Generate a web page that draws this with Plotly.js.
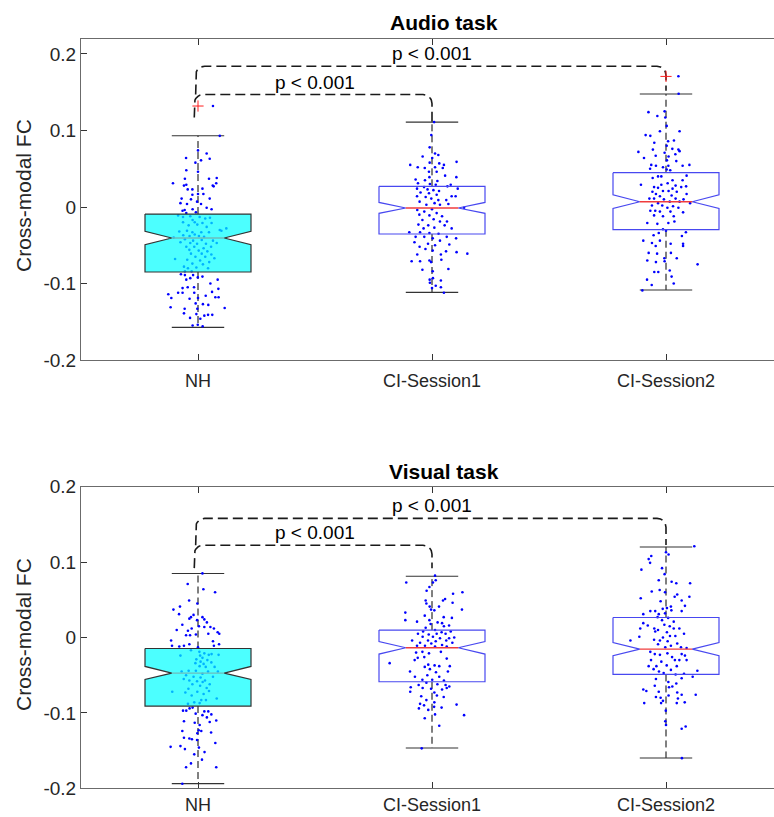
<!DOCTYPE html>
<html><head><meta charset="utf-8">
<script src="https://cdn.plot.ly/plotly-3.0.1.min.js"></script>
<style>html,body{margin:0;padding:0;background:#fff}#chart{width:774px;height:817px}</style>
</head><body><div id="chart"></div>
<script>
// ---------- data ----------
const categories = ['NH', 'CI-Session1', 'CI-Session2'];
const yTickVals = [-0.2, -0.1, 0, 0.1, 0.2];
const yTickText = ['-0.2', '-0.1', '0', '0.1', '0.2'];
const panelTitles = ['Audio task', 'Visual task'];
const yAxisLabel = 'Cross-modal FC';
const pLabel = 'p < 0.001';

// Audio task box statistics (NH, CI-Session1, CI-Session2)
const audioQ1 = [-0.085, -0.0353, -0.0297];
const audioQ3 = [-0.0092, 0.027, 0.0448];
const audioMedian = [-0.0405, -0.0013, 0.0069];
const audioNotchLo = [-0.0493, -0.0083, -0.0018];
const audioNotchHi = [-0.0319, 0.006, 0.016];
const audioWhiskerLo = [-0.1574, -0.1116, -0.1085];
const audioWhiskerHi = [0.0932, 0.111, 0.1477];
const audioOutlierGroup = [1, 3];
const audioOutlierY = [0.132, 0.1707];
// Audio significance brackets
const audioBracketFrom = [1, 1];
const audioBracketTo = [2, 3];
const audioBracketY = [0.147, 0.184];
const audioBracketLeftEnd = [0.117, 0.147];
const audioBracketRightEnd = [0.111, 0.152];

// Visual task box statistics
const visualQ1 = [-0.0909, -0.0587, -0.049];
const visualQ3 = [-0.0146, 0.0098, 0.0265];
const visualMedian = [-0.0472, -0.0136, -0.0154];
const visualNotchLo = [-0.0556, -0.022, -0.0242];
const visualNotchHi = [-0.0384, -0.0053, -0.0066];
const visualWhiskerLo = [-0.1938, -0.1465, -0.1598];
const visualWhiskerHi = [0.0848, 0.0813, 0.1201];
const visualOutlierGroup = [];
const visualOutlierY = [];
const visualBracketFrom = [1, 1];
const visualBracketTo = [2, 3];
const visualBracketY = [0.1224, 0.158];
const visualBracketLeftEnd = [0.092, 0.1224];
const visualBracketRightEnd = [0.092, 0.1228];

// Individual subjects (value, horizontal jitter)
const audioNH_y = [0.132,0.093,0.074,0.070,0.061,0.063,0.064,0.058,0.046,0.048,0.038,0.037,0.037,0.031,0.028,0.029,0.028,0.031,0.027,0.023,0.023,0.024,0.017,0.016,0.017,0.011,0.011,0.010,0.007,0.005,0.004,0.004,-0.001,-0.003,-0.003,-0.004,-0.005,-0.007,-0.008,
-0.011,-0.013,-0.012,-0.013,-0.015,-0.014,-0.017,-0.020,-0.020,-0.021,-0.021,-0.024,-0.023,-0.026,-0.030,-0.031,-0.028,-0.032,-0.031,-0.033,-0.033,-0.033,-0.036,-0.037,-0.038,-0.038,-0.039,-0.040,-0.042,-0.044,-0.043,-0.044,-0.046,-0.047,-0.048,-0.048,-0.047,-0.052,-0.052,-0.054,-0.052,-0.056,-0.057,-0.058,-0.061,-0.061,-0.062,-0.065,-0.065,-0.067,-0.068,-0.069,-0.070,-0.072,-0.074,-0.075,-0.078,-0.080,-0.079,-0.080,-0.084,-0.084,
-0.088,-0.089,-0.089,-0.092,-0.091,-0.093,-0.095,-0.095,-0.100,-0.105,-0.105,-0.106,-0.107,-0.114,-0.112,-0.112,-0.112,-0.111,-0.116,-0.120,-0.119,-0.119,-0.118,-0.118,-0.126,-0.127,-0.128,-0.131,-0.132,-0.133,-0.133,-0.139,-0.140,-0.142,-0.141,-0.141,-0.145,-0.146,-0.155,-0.156,-0.154];
const audioNH_dx = [0.064,0.093,0,0.037,0.013,0.05,-0.051,-0.011,0,-0.05,0.08,0.047,-0.056,-0.107,-0.06,-0.05,0.063,0.078,0.067,-0.024,-0.044,0.019,0,-0.024,0.023,0.05,-0.07,-0.03,-0.004,-0.075,-0.047,0.013,0.037,0.058,-0.023,-0.057,-0.066,-0.009,-0.05,
-0.085,-0.064,-0.033,0.007,0.031,0.051,-0.023,-0.064,-0.014,0.019,0.058,-0.04,-0.003,0.037,0.093,0.1,0.121,-0.08,-0.047,-0.024,0.014,0.047,-0.014,-0.063,-0.036,0.004,0.026,-0.104,-0.056,-0.021,0.016,0.064,-0.075,-0.033,-0.004,0.034,0.08,-0.05,-0.016,0.024,0.056,-0.037,0.003,0.04,-0.03,0.016,0.057,-0.011,0.031,0.07,-0.098,-0.046,0.009,0.048,-0.024,0.021,-0.06,-0.043,-0.007,0.043,-0.056,-0.027,
-0.073,-0.056,-0.021,-0.001,0.019,-0.033,-0.05,0.084,0.053,-0.017,-0.044,-0.066,0.087,-0.127,-0.085,-0.066,-0.016,0.06,0.033,-0.036,0,-0.114,0.074,0.088,-0.01,0.021,0.044,-0.117,0.114,-0.057,-0.003,-0.06,-0.007,0.027,0.043,0.061,-0.034,0.01,-0.023,0.02,-0.001];

const audioCI1_y = [0.111,0.094,0.078,0.070,0.068,0.066,0.064,0.058,0.057,0.059,0.055,0.055,0.052,0.051,0.052,0.051,0.046,0.046,0.039,0.041,0.039,0.036,0.035,0.034,0.031,0.030,0.029,0.029,0.026,0.027,0.024,0.024,0.023,0.022,0.021,0.019,0.018,0.016,0.014,0.014,0.014,0.013,0.011,0.009,0.009,0.007,0.005,0.004,0.003,0.003,
-0.001,-0.004,-0.003,-0.006,-0.008,-0.010,-0.011,-0.012,-0.019,-0.017,-0.016,-0.019,-0.023,-0.024,-0.024,-0.027,-0.028,-0.028,-0.033,-0.033,-0.034,-0.035,-0.039,-0.039,-0.041,-0.039,-0.041,-0.044,-0.046,-0.048,-0.050,-0.049,-0.052,-0.055,-0.057,-0.058,-0.059,-0.062,-0.061,-0.062,-0.071,-0.070,-0.071,-0.069,-0.072,-0.081,-0.082,-0.084,-0.093,-0.095,-0.106,-0.096,-0.099,-0.103,-0.105,-0.112];
const audioCI1_dx = [0.009,-0.003,-0.01,0.013,0.027,-0.04,0.001,-0.01,0.031,0.105,-0.093,0.051,-0.061,-0.031,0.013,0.046,0.02,-0.013,0.104,0.056,-0.011,-0.07,-0.03,0.023,-0.06,-0.009,0.08,0.016,-0.034,0.066,0.11,-0.064,-0.019,0.006,0.03,-0.049,-0.013,0.02,-0.064,0.101,0.084,-0.027,-0.003,0.061,0.027,-0.053,0.011,0.07,-0.024,0.034,
0.137,-0.063,0,-0.033,0.02,-0.054,-0.011,0.043,0.064,-0.041,0.007,0.034,-0.058,-0.016,0.054,0.01,-0.036,0.084,-0.097,-0.051,-0.011,0.028,-0.07,-0.033,0.003,0.063,0.103,0.034,-0.075,-0.017,0.013,0.074,-0.053,-0.028,0.003,0.06,0.105,0.038,0.151,-0.063,-0.087,-0.011,-0.051,0.04,-0.004,0.07,-0.041,0.003,0.004,-0.01,0,0.038,-0.009,0.016,0.038,0.051];

const audioCI2_y = [0.171,0.148,0.124,0.125,0.119,0.117,0.106,0.099,0.099,0.094,0.093,0.087,0.086,0.084,0.080,0.076,0.075,0.075,0.072,0.073,0.071,0.067,0.066,0.064,0.069,0.061,0.060,0.055,0.054,0.054,0.055,0.054,0.052,0.050,0.049,0.048,
0.040,0.038,0.040,0.041,0.035,0.035,0.029,0.031,0.028,0.027,0.029,0.026,0.025,0.024,0.026,0.020,0.021,0.021,0.020,0.017,0.017,0.014,0.015,0.011,0.011,0.011,0.010,0.010,0.007,0.007,0.005,0.005,0.002,0.002,0.001,-0.001,-0.001,-0.005,-0.005,-0.006,-0.006,-0.007,-0.011,-0.012,-0.012,-0.021,-0.022,-0.021,-0.019,-0.029,
-0.031,-0.034,-0.033,-0.037,-0.038,-0.044,-0.044,-0.047,-0.048,-0.048,-0.051,-0.051,-0.060,-0.060,-0.061,-0.067,-0.067,-0.070,-0.072,-0.071,-0.075,-0.085,-0.085,-0.083,-0.091,-0.095,-0.102,-0.100,-0.109];
const audioCI2_dx = [0.053,0.054,-0.075,-0.006,-0.037,-0.003,0.003,-0.026,0.058,-0.087,-0.067,0.034,0.009,-0.05,0.003,0.027,0.053,-0.056,-0.118,0.058,-0.006,-0.044,0.011,-0.094,0.04,0.004,0.044,-0.063,-0.043,0.071,0.1,0.01,-0.013,-0.068,0.003,0.018,
-0.034,-0.057,-0.02,0.088,0.028,0.071,-0.107,0.007,0.041,0.086,-0.02,-0.051,-0.034,0.028,0.065,-0.058,-0.013,0.011,0.046,-0.043,0.088,-0.026,0.024,-0.071,0.041,-0.051,-0.009,0.075,0.016,0.058,0.103,-0.034,-0.06,-0.016,0.03,0.006,0.053,-0.067,-0.046,-0.026,0.019,0.073,-0.051,-0.013,0.033,-0.08,-0.037,0.01,0.036,-0.013,
0,-0.031,0.085,-0.053,0.068,-0.097,-0.026,-0.06,0.02,0.073,0.073,-0.044,-0.074,0.021,-0.038,-0.007,0.046,-0.08,-0.043,-0.006,0.135,-0.05,-0.033,0.016,0.024,-0.081,-0.061,0.033,-0.101];

const visualNH_y = [0.085,0.071,0.064,0.060,0.045,0.049,0.041,0.037,0.031,0.030,0.027,0.025,0.027,0.023,0.024,0.020,0.017,0.015,0.012,0.014,0.014,0.010,0.009,0.012,0.007,0.005,0.003,0.003,0.004,0.005,-0.004,-0.005,-0.009,-0.011,-0.009,-0.011,-0.012,-0.013,-0.011,
-0.017,-0.019,-0.021,-0.023,-0.024,-0.024,-0.022,-0.023,-0.027,-0.029,-0.030,-0.032,-0.033,-0.034,-0.035,-0.038,-0.039,-0.039,-0.044,-0.044,-0.045,-0.045,-0.048,-0.045,-0.050,-0.052,-0.053,-0.052,-0.055,-0.057,-0.058,-0.057,-0.059,-0.062,-0.062,-0.064,-0.067,-0.068,-0.071,-0.072,-0.072,-0.073,-0.075,-0.077,-0.081,-0.083,-0.083,-0.086,-0.088,-0.087,
-0.097,-0.097,-0.094,-0.093,-0.098,-0.098,-0.101,-0.103,-0.106,-0.102,-0.111,-0.110,-0.113,-0.112,-0.116,-0.123,-0.124,-0.124,-0.126,-0.127,-0.133,-0.134,-0.135,-0.136,-0.140,-0.145,-0.144,-0.148,-0.146,-0.152,-0.155,-0.162,-0.167,-0.172,-0.172,-0.194];
const visualNH_dx = [0.019,-0.044,0.023,0.073,-0.003,-0.038,-0.077,-0.105,-0.081,-0.019,-0.03,-0.037,0.019,-0.004,0.027,0.038,-0.067,0.004,-0.027,0.027,0.053,-0.091,-0.043,0.068,0.084,0.091,-0.051,-0.034,-0.009,0.044,-0.115,0.064,-0.037,-0.06,0.09,-0.111,-0.08,0,0.068,
-0.03,0.006,0.027,0.046,-0.075,0.009,0.058,0.088,0.019,-0.007,0.04,0.011,0.057,-0.011,0.024,0.007,0.033,0.071,-0.04,-0.009,-0.07,0.043,0.019,0.085,-0.051,-0.019,0.011,0.064,-0.061,-0.037,-0.004,0.03,0.02,-0.024,0.05,0.009,0.037,-0.041,0.047,-0.11,-0.003,-0.054,0.024,-0.027,0.08,0.014,0.034,-0.016,-0.043,0.007,
-0.064,-0.05,-0.036,-0.023,0.027,0.044,-0.01,0.019,0.038,0.057,-0.06,0.078,-0.014,0.05,0.007,0.003,0.014,-0.067,0.056,-0.003,-0.06,-0.037,-0.026,-0.004,0.074,-0.117,-0.075,-0.056,0.004,0.028,-0.016,0.017,-0.03,-0.051,0.078,-0.067];

const visualCI1_y = [0.082,0.073,0.073,0.076,0.067,0.062,0.060,0.058,0.051,0.049,0.049,0.046,0.045,0.041,0.041,0.037,0.036,0.033,0.037,0.029,0.027,0.026,0.023,0.023,0.021,0.020,0.019,0.018,0.016,0.015,0.013,0.010,0.008,
0.007,0.008,0.005,0.004,0.005,0.005,0.001,0.001,-0.001,-0.001,0.000,-0.004,-0.004,-0.005,-0.004,-0.007,-0.008,-0.010,-0.007,-0.011,-0.011,-0.012,-0.012,-0.019,-0.021,-0.020,-0.019,-0.027,-0.026,-0.028,-0.030,-0.034,-0.036,-0.037,-0.039,-0.038,-0.038,-0.042,-0.045,-0.046,-0.045,-0.050,-0.052,-0.052,-0.056,-0.056,-0.057,
-0.060,-0.063,-0.062,-0.063,-0.065,-0.066,-0.067,-0.068,-0.072,-0.069,-0.073,-0.067,-0.078,-0.077,-0.079,-0.083,-0.086,-0.088,-0.090,-0.089,-0.094,-0.093,-0.096,-0.092,-0.103,-0.107,-0.102,-0.117,-0.147];
const visualCI1_dx = [0.013,-0.11,0.004,0.016,-0.011,-0.023,0.13,0.09,0.056,0.047,-0.027,0.088,-0.024,-0.01,0.03,-0.004,0.01,-0.114,0.128,-0.031,0.05,0.085,-0.114,-0.011,-0.064,0.024,0.043,-0.006,0.073,0.051,-0.027,0.013,-0.038,
0.041,0.08,-0.06,-0.014,0.02,0.058,-0.04,0.004,0.034,0.073,0.095,-0.085,-0.017,0.016,0.061,-0.051,-0.003,0.043,0.087,-0.064,-0.03,0.013,0.063,-0.041,-0.013,-0.068,0.038,-0.061,-0.033,0.063,-0.074,-0.181,-0.016,0.011,-0.031,0.031,0.076,-0.009,-0.094,0.017,0.068,-0.02,-0.073,0.031,-0.041,0.001,0.051,
-0.024,-0.057,0.023,0.058,0.074,-0.091,-0.04,-0.004,-0.093,0.043,0.01,0.063,-0.046,0.021,0.05,-0.024,0.01,-0.051,-0.034,0.105,-0.056,0.041,-0.016,0.009,0.137,-0.031,0.013,0.031,-0.044];

const visualCI2_y = [0.121,0.113,0.110,0.108,0.104,0.099,0.092,0.090,0.084,0.076,0.074,0.072,0.072,0.063,0.061,0.060,0.057,0.054,0.054,0.052,0.049,0.048,0.041,0.042,0.039,0.038,0.035,0.035,0.036,0.031,0.031,0.032,0.035,
0.027,0.026,0.023,0.021,0.019,0.016,0.017,0.012,0.015,0.012,0.010,0.012,0.012,0.008,0.007,0.005,0.001,0.002,0.000,0.002,-0.003,-0.004,-0.004,-0.005,-0.008,-0.009,-0.011,-0.013,-0.013,-0.014,-0.019,-0.022,-0.023,-0.021,-0.022,-0.026,-0.024,-0.030,-0.032,-0.030,-0.030,-0.030,-0.038,-0.038,-0.037,-0.038,-0.042,-0.043,-0.044,-0.045,-0.047,-0.048,-0.049,
-0.055,-0.054,-0.052,-0.059,-0.064,-0.065,-0.061,-0.069,-0.071,-0.066,-0.072,-0.073,-0.076,-0.076,-0.079,-0.080,-0.077,-0.081,-0.084,-0.087,-0.087,-0.086,-0.087,-0.097,-0.111,-0.116,-0.118,-0.121,-0.160];
const visualCI2_dx = [0.121,0,0.011,-0.063,-0.074,-0.068,-0.017,-0.105,-0.006,-0.031,0.024,0.044,0.103,-0.027,-0.061,-0.004,0.048,0.037,0.1,-0.108,0.067,-0.023,0.021,0.081,0.004,-0.014,-0.046,-0.067,0.023,-0.097,-0.031,-0.004,0.067,
-0.036,0.009,-0.017,0.033,-0.097,-0.078,-0.007,-0.05,0.016,-0.11,-0.034,0.033,0.057,-0.046,0.004,0.077,-0.114,0.017,-0.013,0.04,-0.051,-0.026,-0.152,0.007,0.048,-0.034,0.021,-0.003,0.064,0.088,-0.067,-0.048,-0.026,0.006,0.067,0.026,0.081,-0.064,-0.02,0.038,0.057,0.088,-0.074,-0.041,0.003,0.046,-0.053,0.021,0.134,-0.03,-0.01,0.077,0.041,
-0.043,0.067,0.114,0.01,-0.048,0.027,0.044,-0.097,-0.084,0.013,-0.031,0.048,0.067,0.127,-0.043,-0.023,0.011,0.051,-0.013,-0.093,-0.021,0.08,0.046,-0.001,-0.003,0,0.084,0.067,0.068];

// ---------- drawing ----------
const FONT = 'Liberation Sans, Arial, Helvetica, sans-serif';
const W = 774, H = 817;
const plotLeft = 81;
const xRange = [0.5, 0.5 + (W - plotLeft) / 234];
const pxPerX = 234;
const boxHalf = 0.2265, notchHalf = 0.112, capHalf = 0.112;

function panelTraces(ax, ay, pxPerY, S) {
  const tr = [];
  const lineBase = {xaxis: ax, yaxis: ay, mode: 'lines', hoverinfo: 'skip', showlegend: false};
  // brackets
  const rx = 9 / pxPerX, ry = 9 / pxPerY;
  S.bFrom.forEach((a, i) => {
    const xl = a - (i === 0 ? 0.016 : 0.01), xr = S.bTo[i], yt = S.bY[i];
    const xs = [xl], ys = [S.bL[i]];
    for (let k = 0; k <= 8; k++) { const t = Math.PI - k * Math.PI / 16; xs.push(xl + rx + rx * Math.cos(t)); ys.push(yt - ry + ry * Math.sin(t)); }
    for (let k = 0; k <= 8; k++) { const t = Math.PI / 2 - k * Math.PI / 16; xs.push(xr - rx + rx * Math.cos(t)); ys.push(yt - ry + ry * Math.sin(t)); }
    xs.push(xr); ys.push(S.bR[i]);
    tr.push(Object.assign({}, lineBase, {x: xs, y: ys, line: {color: '#1a1a1a', width: 1.6, dash: '10px,5px'}}));
  });
  // whiskers
  categories.forEach((c, i) => {
    const g = i + 1;
    tr.push(Object.assign({}, lineBase, {x: [g, g, null, g, g], y: [S.q3[i], S.wHi[i], null, S.q1[i], S.wLo[i]], line: {color: '#000', width: 1, dash: '7px,4px'}}));
    tr.push(Object.assign({}, lineBase, {x: [g - capHalf, g + capHalf, null, g - capHalf, g + capHalf], y: [S.wHi[i], S.wHi[i], null, S.wLo[i], S.wLo[i]], line: {color: '#333', width: 1.1}}));
  });
  // points
  S.pts.forEach((p, i) => {
    tr.push({xaxis: ax, yaxis: ay, type: 'scatter', mode: 'markers', showlegend: false, hoverinfo: 'y',
      x: p.dx.map(d => i + 1 + d), y: p.y, marker: {color: '#0000ff', size: 2.6, line: {width: 0}}});
  });
  // boxes
  categories.forEach((c, i) => {
    const g = i + 1;
    const xs = [g - boxHalf, g + boxHalf, g + boxHalf, g + notchHalf, g + boxHalf, g + boxHalf, g - boxHalf, g - boxHalf, g - notchHalf, g - boxHalf, g - boxHalf];
    const ys = [S.q3[i], S.q3[i], S.nHi[i], S.med[i], S.nLo[i], S.q1[i], S.q1[i], S.nLo[i], S.med[i], S.nHi[i], S.q3[i]];
    const isNH = i === 0;
    tr.push(Object.assign({}, lineBase, {x: xs, y: ys, fill: isNH ? 'toself' : 'none',
      fillcolor: 'rgba(0,255,255,0.7)', line: {color: isNH ? '#333' : '#4848f0', width: 1.2}}));
    tr.push(Object.assign({}, lineBase, {x: [g - notchHalf, g + notchHalf], y: [S.med[i], S.med[i]],
      line: {color: isNH ? '#6cbcbc' : '#f03c3c', width: 1.4}}));
  });
  // outliers
  if (S.outG.length) {
    tr.push({xaxis: ax, yaxis: ay, type: 'scatter', mode: 'markers', showlegend: false,
      x: S.outG, y: S.outY, marker: {symbol: 'cross-thin', size: 8, line: {color: '#ff2020', width: 1}}});
  }
  return tr;
}

const audio = {q1: audioQ1, q3: audioQ3, med: audioMedian, nLo: audioNotchLo, nHi: audioNotchHi, wLo: audioWhiskerLo, wHi: audioWhiskerHi,
  outG: audioOutlierGroup, outY: audioOutlierY, bFrom: audioBracketFrom, bTo: audioBracketTo, bY: audioBracketY, bL: audioBracketLeftEnd, bR: audioBracketRightEnd,
  pts: [{y: audioNH_y, dx: audioNH_dx}, {y: audioCI1_y, dx: audioCI1_dx}, {y: audioCI2_y, dx: audioCI2_dx}]};
const visual = {q1: visualQ1, q3: visualQ3, med: visualMedian, nLo: visualNotchLo, nHi: visualNotchHi, wLo: visualWhiskerLo, wHi: visualWhiskerHi,
  outG: visualOutlierGroup, outY: visualOutlierY, bFrom: visualBracketFrom, bTo: visualBracketTo, bY: visualBracketY, bL: visualBracketLeftEnd, bR: visualBracketRightEnd,
  pts: [{y: visualNH_y, dx: visualNH_dx}, {y: visualCI1_y, dx: visualCI1_dx}, {y: visualCI2_y, dx: visualCI2_dx}]};

const topPx = [39, 360], botPx = [486.7, 788.3];
const audioRange = [-0.2, 0.2196], visualRange = [-0.2, 0.2];
const data = [].concat(
  panelTraces('x', 'y', (topPx[1] - topPx[0]) / (audioRange[1] - audioRange[0]), audio),
  panelTraces('x2', 'y2', (botPx[1] - botPx[0]) / (visualRange[1] - visualRange[0]), visual)
);

const tickFont = {family: FONT, size: 19, color: '#262626'};
const xTickFont = {family: FONT, size: 18, color: '#262626'};
function xAx(anchor, standoff) {
  return {domain: [plotLeft / W, 1], range: xRange, anchor: anchor, tickmode: 'array', tickvals: [1, 2, 3], ticktext: categories,
    ticks: 'inside', ticklen: 6, tickcolor: '#333', showline: true, linecolor: '#6b6b6b', linewidth: 1, mirror: 'ticks',
    showgrid: false, zeroline: false, tickfont: xTickFont, ticklabelstandoff: standoff, fixedrange: true};
}
function yAx(anchor, dom, rng) {
  return {domain: dom, range: rng, anchor: anchor, tickmode: 'array', tickvals: yTickVals, ticktext: yTickText,
    ticks: 'inside', ticklen: 6, tickcolor: '#333', showline: true, linecolor: '#6b6b6b', linewidth: 1, mirror: false,
    showgrid: false, zeroline: false, tickfont: tickFont, fixedrange: true};
}

const annotations = [];
[[audio, 'x', 'y'], [visual, 'x2', 'y2']].forEach(([S, ax, ay]) => {
  S.bFrom.forEach((a, i) => {
    annotations.push({xref: ax, yref: ay, x: (a + S.bTo[i]) / 2, y: S.bY[i], yanchor: 'bottom', xanchor: 'center',
      text: pLabel, showarrow: false, font: {family: FONT, size: 19, color: '#000'}});
  });
});
[[panelTitles[0], 23], [panelTitles[1], 471]].forEach(([t, py]) => {
  annotations.push({xref: 'paper', yref: 'paper', x: 444 / W, y: 1 - py / H, xanchor: 'center', yanchor: 'middle',
    text: '<b>' + t + '</b>', showarrow: false, font: {family: FONT, size: 21, color: '#000'}});
});
[196, 635].forEach(py => {
  annotations.push({xref: 'paper', yref: 'paper', x: 23 / W, y: 1 - py / H, xanchor: 'center', yanchor: 'middle',
    text: yAxisLabel, textangle: -90, showarrow: false, font: {family: FONT, size: 21, color: '#262626'}});
});

const layout = {
  width: W, height: H, margin: {l: 0, r: 0, t: 0, b: 0},
  paper_bgcolor: '#fff', plot_bgcolor: '#fff', showlegend: false,
  xaxis: xAx('y', 4), yaxis: yAx('x', [1 - topPx[1] / H, 1 - topPx[0] / H], audioRange),
  xaxis2: xAx('y2', 0), yaxis2: yAx('x2', [1 - botPx[1] / H, 1 - botPx[0] / H], visualRange),
  annotations: annotations
};

Plotly.newPlot('chart', data, layout, {displayModeBar: false, staticPlot: true});
</script>
</body></html>
